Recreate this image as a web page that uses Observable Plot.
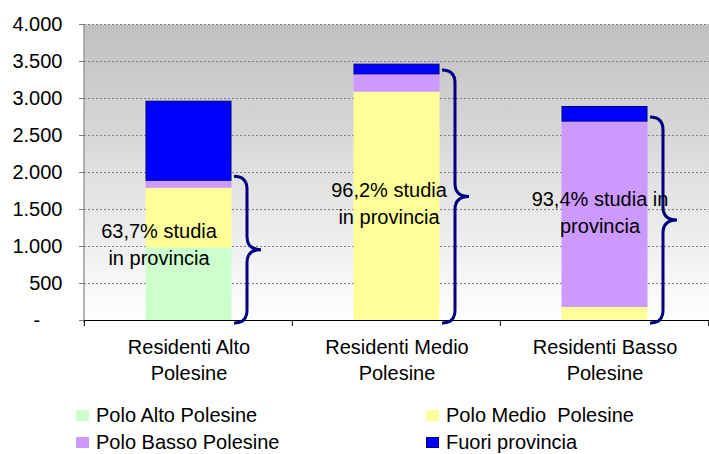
<!DOCTYPE html>
<html><head><meta charset="utf-8">
<script src="https://cdn.jsdelivr.net/npm/d3@7"></script>
<script src="https://cdn.jsdelivr.net/npm/@observablehq/plot@0.6"></script>
<style>
body{margin:0;background:#fff;font-family:"Liberation Sans",Arial,sans-serif;}
#wrap{position:relative;width:709px;height:454px;overflow:hidden}
#wrap svg{position:absolute;left:0;top:0}
.leg{position:absolute;font-size:20px;line-height:20px;height:20px;color:#000;display:flex;align-items:center;white-space:pre}
.sw{width:13px;height:11px;margin-right:7px;box-sizing:border-box}
</style></head><body><div id="wrap"></div>
<script>
// ---- data ----
const categories = ["Residenti Alto Polesine", "Residenti Medio Polesine", "Residenti Basso Polesine"];
const categoryLabels = ["Residenti Alto\nPolesine", "Residenti Medio\nPolesine", "Residenti Basso\nPolesine"];
const series = ["Polo Alto Polesine", "Polo Medio  Polesine", "Polo Basso Polesine", "Fuori provincia"];
const poloAlto = [985, 5, 0];
const poloMedio = [808, 3087, 183];
const poloBasso = [95, 234, 2505];
const fuoriProvincia = [1069, 131, 197];
const annotationTexts = ["63,7% studia\nin provincia", "96,2% studia\nin provincia", "93,4% studia in\nprovincia"];
const annotationY = [1055, 1597, 1475];
const yTicks = [0, 500, 1000, 1500, 2000, 2500, 3000, 3500, 4000];

// ---- styles ----
const colors = ["#ccffcc", "#ffff99", "#cc99ff", "#0000ff"];
const strokes = ["#ccffcc", "#ffff99", "#cc99ff", "#000080"];
const annotationDx = [-30, -8, -5];
const padInner = 0.59;

const valuesBySeries = [poloAlto, poloMedio, poloBasso, fuoriProvincia];
const table = [];
series.forEach((s, si) => categories.forEach((c, ci) => table.push({category: c, series: s, value: valuesBySeries[si][ci], si})));
const inProvincia = categories.map((c, i) => poloAlto[i] + poloMedio[i] + poloBasso[i]);

const fmt = d => d === 0 ? "-\u00a0\u00a0\u00a0\u00a0" : d3.format(",")(d).replace(/,/g, ".");

function decorations(index, scales, values, dims) {
  const g = d3.create("svg:g");
  const x = scales.x, y = scales.y;
  const step = (dims.width - dims.marginLeft - dims.marginRight) / categories.length;
  let bw = step * (1 - padInner);
  if (typeof x.bandwidth === "function") bw = x.bandwidth();
  else if (typeof x.bandwidth === "number") bw = x.bandwidth;
  const y0 = y(0);
  // left axis line
  g.append("line").attr("x1", dims.marginLeft).attr("x2", dims.marginLeft)
    .attr("y1", y(4000)).attr("y2", y0 + 3).attr("stroke", "#808080").attr("stroke-width", 1.2);
  // x ticks at category boundaries
  const bounds = categories.map(c => x(c) - (step - bw) / 2);
  bounds.push(bounds[bounds.length - 1] + step);
  bounds.forEach(b => g.append("line").attr("x1", b).attr("x2", b).attr("y1", y0).attr("y2", y0 + 6)
    .attr("stroke", "#000").attr("stroke-width", 1));
  // braces
  categories.forEach((c, i) => {
    const xr = x(c) + bw;
    const yt = y(inProvincia[i]) - 4, yb = y0 + 3;
    const xl = xr + 3, xv = xr + 16, xp = xr + 30, ym = (yt + yb) / 2, r = 13;
    g.append("path")
      .attr("d", `M${xl},${yt} Q${xv},${yt} ${xv},${yt + r} L${xv},${ym - r} Q${xv},${ym} ${xp},${ym} Q${xv},${ym} ${xv},${ym + r} L${xv},${yb - r} Q${xv},${yb} ${xl},${yb}`)
      .attr("fill", "none").attr("stroke", "#000080").attr("stroke-width", 3);
  });
  return g.node();
}

const chart = Plot.plot({
  width: 709,
  height: 400,
  marginTop: 24,
  marginBottom: 80,
  marginLeft: 84,
  marginRight: 0,
  style: {fontFamily: "Liberation Sans, Arial, sans-serif", fontSize: "20px", background: "transparent"},
  x: {domain: categories, paddingInner: padInner, paddingOuter: padInner / 2},
  y: {domain: [0, 4000]},
  color: {domain: series, range: colors},
  marks: [
    Plot.frame({fill: "url(#bgGrad)", stroke: "none"}),
    Plot.ruleY(yTicks.filter(d => d > 0), {stroke: "#808080", strokeDasharray: "2,2", strokeWidth: 1}),
    Plot.barY(table, Plot.stackY({
      x: "category", y: "value", fill: "series", z: "series",
      stroke: d => strokes[d.si], strokeWidth: 1, order: series
    })),
    Plot.ruleY([0], {stroke: "#000", strokeWidth: 1.2}),
    decorations,
    ...categories.map((c, i) => Plot.text([c], {
      x: d => d, y: () => annotationY[i], text: () => annotationTexts[i],
      dx: annotationDx[i], fontSize: 20, lineHeight: 1.35, fill: "#000"
    })),
    Plot.axisY({ticks: yTicks, tickFormat: fmt, tickSize: 5, tickPadding: 17, fontSize: 20, stroke: "#808080", fill: "#000", label: null}),
    Plot.axisX({tickFormat: c => categoryLabels[categories.indexOf(c)], tickSize: 0, tickPadding: 15, fontSize: 20, lineHeight: 1.3, fill: "#000", label: null})
  ]
});

const defs = d3.create("svg:defs");
const grad = defs.append("linearGradient").attr("id", "bgGrad").attr("x1", 0).attr("y1", 0).attr("x2", 0).attr("y2", 1);
grad.append("stop").attr("offset", "0%").attr("stop-color", "#c0c0c0");
grad.append("stop").attr("offset", "100%").attr("stop-color", "#ffffff");
chart.insertBefore(defs.node(), chart.firstChild);

const wrap = document.getElementById("wrap");
wrap.appendChild(chart);

// legend
const legendPos = [[76, 415], [426, 415], [76, 442], [426, 442]];
series.forEach((s, i) => {
  const item = document.createElement("div");
  item.className = "leg";
  item.style.left = legendPos[i][0] + "px";
  item.style.top = (legendPos[i][1] - 10) + "px";
  const sw = document.createElement("div");
  sw.className = "sw";
  sw.style.background = colors[i];
  if (i === 3) sw.style.border = "1px solid #000080";
  item.appendChild(sw);
  item.appendChild(document.createTextNode(s));
  wrap.appendChild(item);
});
</script></body></html>
